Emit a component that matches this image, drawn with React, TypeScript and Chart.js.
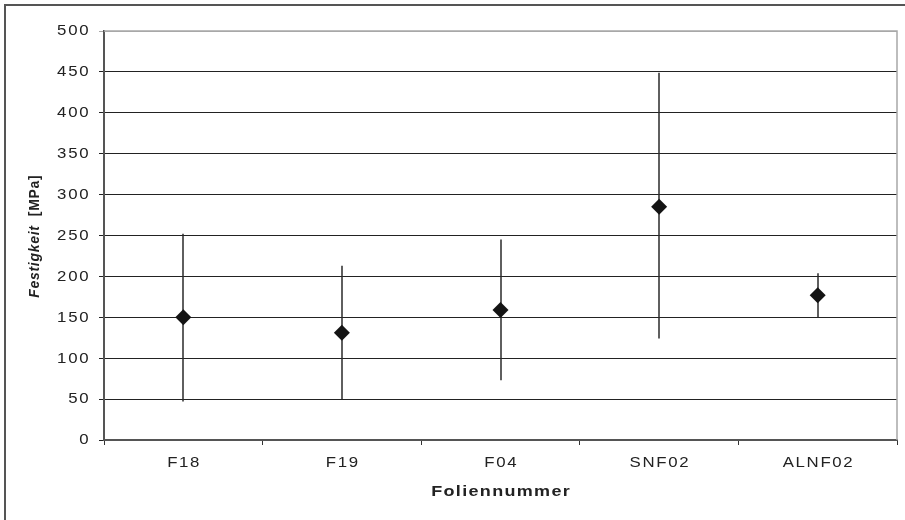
import React, { useEffect, useRef } from 'react';
import { Chart, registerables } from 'chart.js';

Chart.register(...registerables);

const categories = ['F18', 'F19', 'F04', 'SNF02', 'ALNF02'];
const meanValues = [150, 131, 159, 285, 177];
const upperValues = [252, 213, 245, 449, 204];
const lowerValues = [47, 50, 73, 124, 150];
const yMin = 0;
const yMax = 500;
const yStep = 50;
const xTitle = 'Foliennummer';
const yTitleMain = 'Festigkeit';
const yTitleUnit = '[MPa]';

const FONT = '"Liberation Sans", Arial, sans-serif';
const STRETCH = 1.2;

function textWidth(ctx: CanvasRenderingContext2D, text: string, font: string, spacing: number) {
  ctx.font = font;
  (ctx as any).letterSpacing = '0px';
  return ctx.measureText(text).width + spacing * (text.length - 1);
}

// draws horizontally stretched text; align: 'left' | 'center' | 'right'
function drawText(
  ctx: CanvasRenderingContext2D,
  text: string,
  x: number,
  y: number,
  align: string,
  font: string,
  spacing: number,
  sx: number,
) {
  const w = textWidth(ctx, text, font, spacing);
  ctx.save();
  ctx.translate(x, y);
  ctx.scale(sx, 1);
  let start = 0;
  if (align === 'center') start = -w / 2;
  else if (align === 'right') start = -w;
  ctx.font = font;
  (ctx as any).letterSpacing = spacing + 'px';
  ctx.textAlign = 'left';
  ctx.textBaseline = 'middle';
  ctx.fillText(text, start, 0);
  ctx.restore();
}

const decorPlugin = {
  id: 'decor',
  beforeDatasetsDraw(chart: any) {
    const ctx = chart.ctx;
    const xs = chart.scales.x;
    const ys = chart.scales.y;
    ctx.save();
    ctx.strokeStyle = '#2a2a2a';
    ctx.lineWidth = 1.5;
    for (let i = 0; i < categories.length; i++) {
      const x = Math.round(xs.getPixelForValue(i));
      ctx.beginPath();
      ctx.moveTo(x, ys.getPixelForValue(upperValues[i]));
      ctx.lineTo(x, ys.getPixelForValue(lowerValues[i]));
      ctx.stroke();
    }
    ctx.restore();
  },
  afterDraw(chart: any) {
    const ctx = chart.ctx as CanvasRenderingContext2D;
    const area = chart.chartArea;
    const xs = chart.scales.x;
    const ys = chart.scales.y;
    ctx.save();
    // plot area border (top & right)
    ctx.strokeStyle = '#a8a8a8';
    ctx.lineWidth = 1.5;
    ctx.beginPath();
    ctx.moveTo(area.left, area.top);
    ctx.lineTo(area.right, area.top);
    ctx.lineTo(area.right, area.bottom);
    ctx.stroke();
    // outer frame
    ctx.strokeStyle = '#555';
    ctx.lineWidth = 2;
    ctx.beginPath();
    ctx.moveTo(5, 530);
    ctx.lineTo(5, 5);
    ctx.lineTo(915, 5);
    ctx.stroke();

    ctx.fillStyle = '#222';
    const tickFont = `14px ${FONT}`;
    // y tick labels from the scale
    ys.ticks.forEach((t: any, i: number) => {
      const y = ys.getPixelForTick(i);
      drawText(ctx, String(t.label), area.left - 15.5, y + 0.5, 'right', tickFont, 1.4, STRETCH);
    });
    // x tick labels from the scale
    xs.ticks.forEach((t: any, i: number) => {
      const x = xs.getPixelForTick(i);
      drawText(ctx, String(xs.getLabelForValue(t.value)), x, 463, 'center', tickFont, 1.4, STRETCH);
    });
    // x title
    drawText(ctx, xTitle, (area.left + area.right) / 2, 492, 'center', `bold 15px ${FONT}`, 1.1, STRETCH);

    // y title (rotated)
    ctx.translate(35, (area.top + area.bottom) / 2 + 1);
    ctx.rotate(-Math.PI / 2);
    const f1 = `italic bold 14px ${FONT}`;
    const f2 = `bold 14px ${FONT}`;
    const sp = 0.7;
    const w1 = textWidth(ctx, yTitleMain + '  ', f1, sp) + sp;
    const w2 = textWidth(ctx, yTitleUnit, f2, sp);
    const start = -(w1 + w2) / 2;
    (ctx as any).letterSpacing = sp + 'px';
    ctx.textAlign = 'left';
    ctx.textBaseline = 'middle';
    ctx.font = f1;
    ctx.fillText(yTitleMain, start, 0);
    ctx.font = f2;
    ctx.fillText(yTitleUnit, start + w1, 0);
    ctx.restore();
  },
};

export default function App() {
  const ref = useRef<HTMLCanvasElement>(null);
  useEffect(() => {
    if (!ref.current) return;
    const chart = new Chart(ref.current, {
      type: 'line',
      data: {
        labels: categories,
        datasets: [
          {
            data: meanValues,
            showLine: false,
            pointStyle: 'rectRot',
            pointRadius: 8,
            pointBackgroundColor: '#141414',
            pointBorderWidth: 0,
            pointBorderColor: '#141414',
          },
        ],
      },
      options: {
        animation: false,
        responsive: false,
        devicePixelRatio: 1,
        layout: { padding: { top: 31, right: 6, left: 0, bottom: 0 } },
        plugins: {
          legend: { display: false },
          tooltip: { enabled: false },
        },
        scales: {
          x: {
            type: 'category',
            offset: true,
            afterFit: (s: any) => {
              s.height = 80;
            },
            grid: {
              display: true,
              drawOnChartArea: false,
              drawTicks: true,
              tickLength: 5,
              offset: true,
              color: '#333',
            },
            border: { display: true, color: '#555', width: 2 },
            ticks: {
              display: false,
              autoSkip: false,
              maxRotation: 0,
            },
          },
          y: {
            min: yMin,
            max: yMax,
            afterFit: (s: any) => {
              s.width = 104;
            },
            grid: {
              color: (c: any) => (c.tick && c.tick.value === yMax ? '#a8a8a8' : '#222'),
              lineWidth: 1,
              tickLength: 5,
              drawTicks: true,
            },
            border: { display: true, color: '#555', width: 2 },
            ticks: {
              display: false,
              stepSize: yStep,
            },
          },
        },
      },
      plugins: [decorPlugin],
    });
    return () => chart.destroy();
  }, []);
  return (
    <div style={{ position: 'absolute', left: 0, top: 0, width: 905, height: 520, background: '#fff' }}>
      <canvas ref={ref} width={905} height={520} style={{ display: 'block' }} />
    </div>
  );
}
